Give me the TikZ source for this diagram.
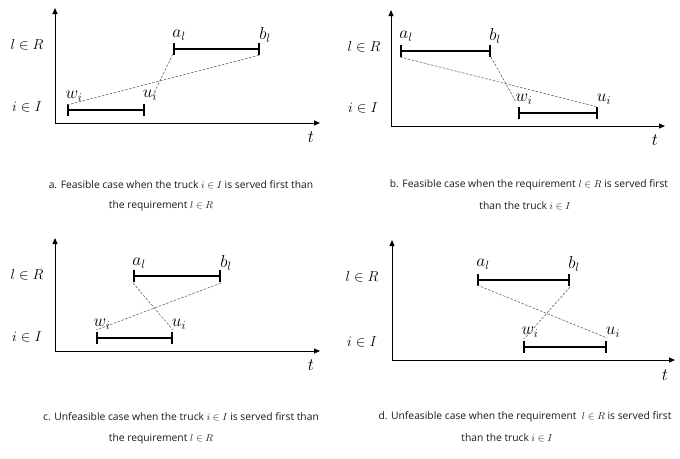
\documentclass[tikz,border=0pt]{standalone}
\usepackage{fontspec}
\setsansfont{Open Sans}
\usetikzlibrary{arrows.meta}
\begin{document}
\begin{tikzpicture}[x=1pt,y=-1pt,
 axis/.style={line width=0.9pt,-{Triangle[length=6pt,width=5pt]}},
 bar/.style={line width=2.8pt,{Bar[width=12pt,line width=2.4pt]}-{Bar[width=12pt,line width=2.4pt]}},
 link/.style={dash pattern=on 2.5pt off 1.5pt, line width=0.6pt, black!60},
 lab/.style={font=\fontsize{17}{17}\selectfont, inner sep=0pt},
 ylab/.style={font=\fontsize{15.5}{15.5}\selectfont, inner sep=0pt},
 captext/.style={font=\sffamily\fontsize{10.3}{11}\selectfont, text=black!90, inner sep=0pt}]
\useasboundingbox (0,0) rectangle (680,458);
\fill[white] (0,0) rectangle (680,458);

% ---------- panel a ----------
\coordinate (Ao) at (55,123);
\coordinate (Ay) at (55,8);
\coordinate (Ax) at (320,123);
\draw[axis] (Ao) -- (Ay);
\draw[axis] (Ao) -- (Ax);
\node[ylab] (AlR) at (27,45) {$l\in R$};
\node[ylab] (AiI) at (27,107) {$i\in I$};
\node[lab] (At) at (311,137) {$t$};
\coordinate (Aw) at (67,110);
\coordinate (Au) at (145,110);
\coordinate (Aa) at (173,49);
\coordinate (Ab) at (260,49);
\draw[bar] (Aw) -- (Au);
\draw[bar] (Aa) -- (Ab);
\node[lab] (Awl) at (74,96) {$w_i$};
\node[lab] (Aul) at (150,95) {$u_i$};
\node[lab] (Aal) at (179,35) {$a_l$};
\node[lab] (Abl) at (265,35) {$b_l$};
\draw[link] ([yshift=5pt]Aw) -- ([yshift=-6pt]Ab);
\draw[link] ([yshift=-5pt]Aa) -- ([xshift=7pt,yshift=13pt]Au);
\node[captext] (Acap1) at (181,185) {a. Feasible case when the truck $i\in I$ is served first than};
\node[captext] (Acap2) at (161,206) {the requirement $l\in R$};

% ---------- panel b ----------
\coordinate (Bo) at (391,126);
\coordinate (By) at (391,10);
\coordinate (Bx) at (665,126);
\draw[axis] (Bo) -- (By);
\draw[axis] (Bo) -- (Bx);
\node[ylab] (BlR) at (364,47) {$l\in R$};
\node[ylab] (BiI) at (363,108) {$i\in I$};
\node[lab] (Bt) at (655,140) {$t$};
\coordinate (Ba) at (400,51);
\coordinate (Bb) at (491,51);
\coordinate (Bw) at (518,113);
\coordinate (Bu) at (598,113);
\draw[bar] (Ba) -- (Bb);
\draw[bar] (Bw) -- (Bu);
\node[lab] (Bal) at (406,36) {$a_l$};
\node[lab] (Bbl) at (495,36) {$b_l$};
\node[lab] (Bwl) at (524,99) {$w_i$};
\node[lab] (Bul) at (604,99) {$u_i$};
\draw[link] ([yshift=-6pt]Ba) -- ([yshift=6pt]Bu);
\draw[link] ([yshift=-6pt]Bb) -- ([xshift=-2pt,yshift=11pt]Bw);
\node[captext] (Bcap1) at (529,185) {b. Feasible case when the requirement $l\in R$ is served first};
\node[captext] (Bcap2) at (525,206) {than the truck $i\in I$};

% ---------- panel c ----------
\coordinate (Co) at (55,351);
\coordinate (Cy) at (55,238);
\coordinate (Cx) at (320,351);
\draw[axis] (Co) -- (Cy);
\draw[axis] (Co) -- (Cx);
\node[ylab] (ClR) at (27,275) {$l\in R$};
\node[ylab] (CiI) at (27,337) {$i\in I$};
\node[lab] (Ct) at (311,365) {$t$};
\coordinate (Ca) at (133,276);
\coordinate (Cb) at (221,276);
\coordinate (Cw) at (96,338);
\coordinate (Cu) at (173,338);
\draw[bar] (Ca) -- (Cb);
\draw[bar] (Cw) -- (Cu);
\node[lab] (Cal) at (139,263) {$a_l$};
\node[lab] (Cbl) at (226,263) {$b_l$};
\node[lab] (Cwl) at (102,324) {$w_i$};
\node[lab] (Cul) at (179,324) {$u_i$};
\draw[link] ([yshift=-7pt]Ca) -- ([yshift=8pt]Cu);
\draw[link] ([yshift=-7pt]Cb) -- ([yshift=8pt]Cw);
\node[captext] (Ccap1) at (181,417) {c. Unfeasible case when the truck $i\in I$ is served first than};
\node[captext] (Ccap2) at (161,439) {the requirement $l\in R$};

% ---------- panel d ----------
\coordinate (Do) at (392,360);
\coordinate (Dy) at (392,240);
\coordinate (Dx) at (675,360);
\draw[axis] (Do) -- (Dy);
\draw[axis] (Do) -- (Dx);
\node[ylab] (DlR) at (362,277) {$l\in R$};
\node[ylab] (DiI) at (362,342) {$i\in I$};
\node[lab] (Dt) at (665,375) {$t$};
\coordinate (Da) at (477,280);
\coordinate (Db) at (570,280);
\coordinate (Dw) at (523,347);
\coordinate (Du) at (607,347);
\draw[bar] (Da) -- (Db);
\draw[bar] (Dw) -- (Du);
\node[lab] (Dal) at (483,264) {$a_l$};
\node[lab] (Dbl) at (574,264) {$b_l$};
\node[lab] (Dwl) at (530,332) {$w_i$};
\node[lab] (Dul) at (613,332) {$u_i$};
\draw[link] ([yshift=-5pt]Da) -- ([yshift=9pt]Du);
\draw[link] ([yshift=-7pt]Db) -- ([xshift=1pt,yshift=8pt]Dw);
\node[captext] (Dcap1) at (525,417) {d. Unfeasible case when the requirement \ $l\in R$ is served first};
\node[captext] (Dcap2) at (507,438) {than the truck $i\in I$};
\end{tikzpicture}
\end{document}
